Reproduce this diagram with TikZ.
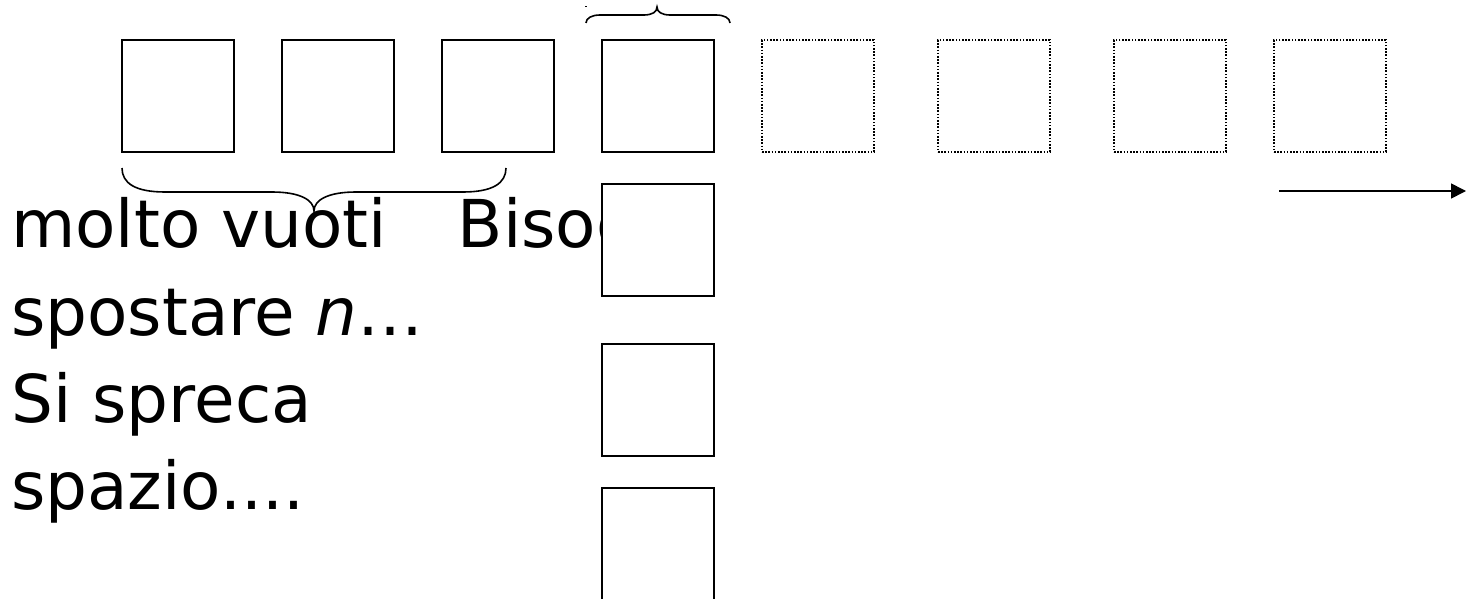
\documentclass[tikz,border=0pt]{standalone}
\usepackage{fontspec}
\setmainfont{DejaVu Sans}
\usetikzlibrary{arrows.meta}
\begin{document}
\begin{tikzpicture}[x=1pt,y=-1pt,
  cell/.style={draw=black,line width=1.6pt,fill=white,minimum width=112pt,minimum height=112pt,inner sep=0pt,outer sep=0pt},
  ghost/.style={cell,fill=none,dash pattern=on 1.6pt off 1.6pt},
  brc/.style={draw=black,line width=1.6pt},
  txt/.style={anchor=base west,inner sep=0pt,font=\fontsize{66}{87}\selectfont}]
\useasboundingbox (0,0) rectangle (1466,599);
% text
\node[txt] (l1) at (11,247) {molto vuoti\hspace{71pt}Bisog};
\node[txt] (l2) at (11,335) {spostare \textit{n}…};
\node[txt] (l3) at (11,422) {Si spreca};
\node[txt] (l4) at (11,509) {spazio....};
% top row
\node[cell] (a1) at (178,96) {};
\node[cell] (a2) at (338,96) {};
\node[cell] (a3) at (498,96) {};
\node[cell] (a4) at (658,96) {};
\node[ghost] (g1) at (818,96) {};
\node[ghost] (g2) at (994,96) {};
\node[ghost] (g3) at (1170,96) {};
\node[ghost] (g4) at (1330,96) {};
% column
\node[cell] (b1) at (658,240) {};
\node[cell] (b2) at (658,400) {};
\node[cell,minimum height=118pt] (b3) at (658,547) {};
% braces
\draw[brc] (122,168) .. controls (122,183) and (135,192) .. (165,192) -- (272,192)
  .. controls (300,192) and (314,200) .. (314,211)
  .. controls (314,200) and (328,192) .. (356,192) -- (463,192)
  .. controls (493,192) and (506,183) .. (506,168);
\draw[brc] (586,23) .. controls (586,18) and (592,15) .. (600,15) -- (644,15)
  .. controls (652,15) and (657,12) .. (657,7)
  .. controls (657,12) and (662,15) .. (670,15) -- (716,15)
  .. controls (724,15) and (730,18) .. (730,23);
\fill (585,6) rectangle (586.5,7.5);
% arrow
\coordinate (s) at (1279,191);
\coordinate (e) at (1466,191);
\draw[line width=1.6pt,-{Triangle[length=15pt,width=15pt]}] (s) -- (e);
\end{tikzpicture}
\end{document}
